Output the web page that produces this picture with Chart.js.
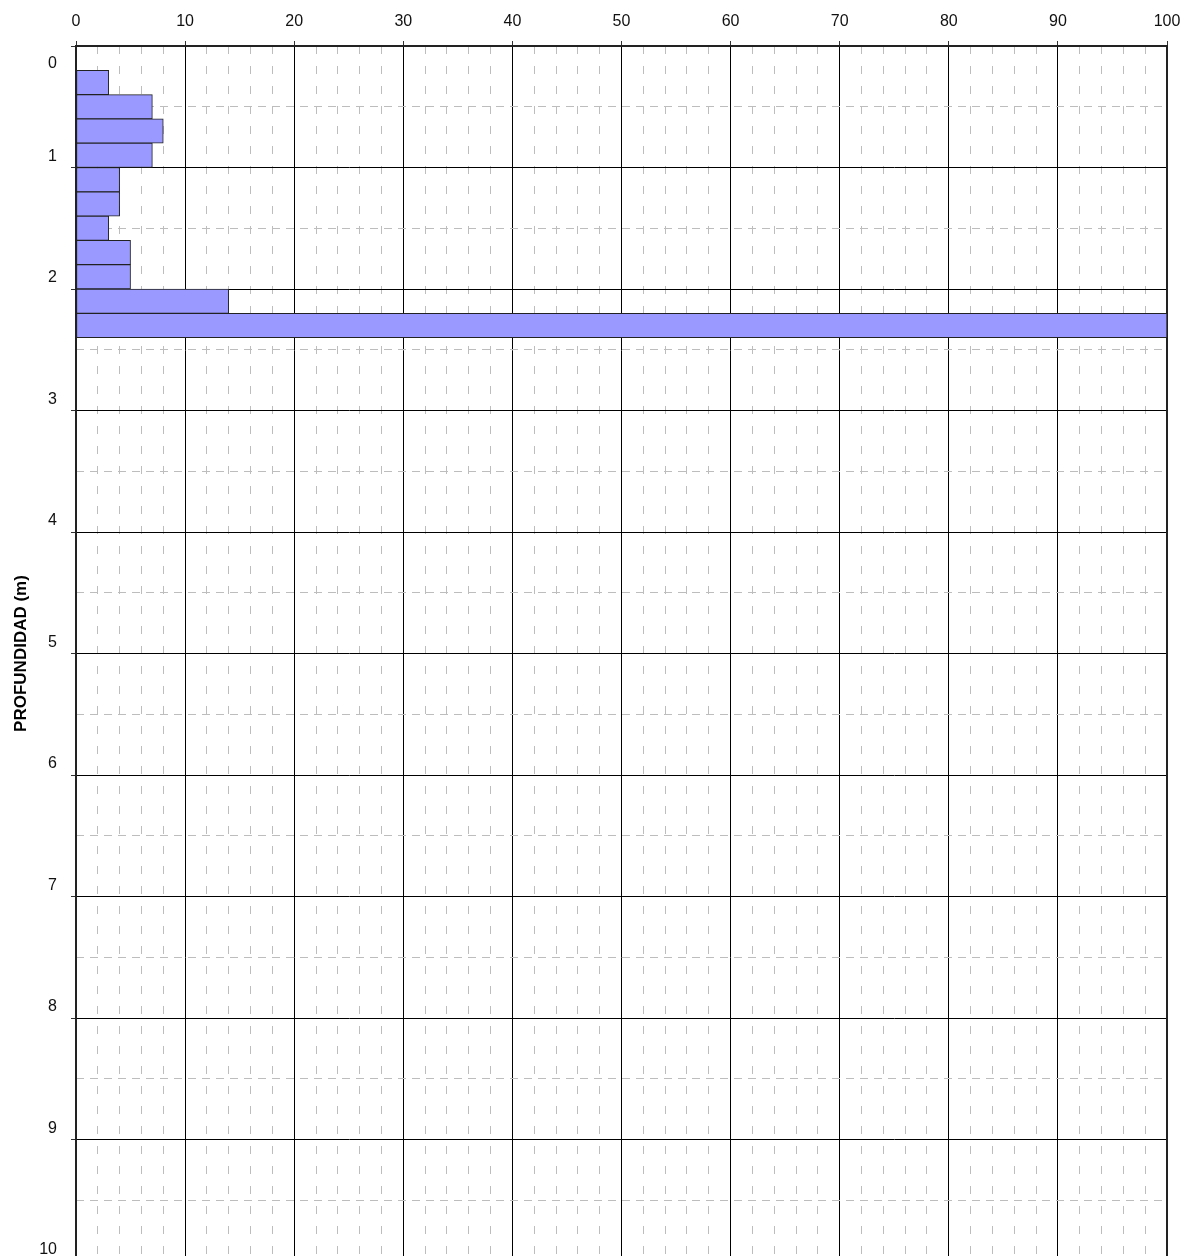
<!DOCTYPE html>
<html>
<head>
<meta charset="utf-8">
<script src="https://cdn.jsdelivr.net/npm/chart.js@4"></script>
<style>
  html, body { margin: 0; padding: 0; background: #fff; overflow: hidden; }
</style>
</head>
<body>
<canvas id="chart" width="1191" height="1270"></canvas>
<script>
// profundidad del centro de cada tramo (m) y valor medido
const depths = [0.3, 0.5, 0.7, 0.9, 1.1, 1.3, 1.5, 1.7, 1.9, 2.1, 2.3];
const values = [3, 7, 8, 7, 4, 4, 3, 5, 5, 14, 100];
const axisTitle = 'PROFUNDIDAD (m)';

const ctx = document.getElementById('chart').getContext('2d');
const tickFont = { family: 'Arial, "Liberation Sans"', size: 16 };

// rejilla menor: transparente donde coincide con la mayor
function minorColor(step) {
  return (c) => {
    const v = c.tick ? c.tick.value : 0;
    return Math.abs(v / step - Math.round(v / step)) < 1e-6 ? 'rgba(0,0,0,0)' : '#bdbdbd';
  };
}

// tamaño fijo de cada eje, sin relleno extra para las etiquetas
function fixSize(prop, size) {
  return (s) => {
    s[prop] = size;
    s.paddingTop = s.paddingBottom = s.paddingLeft = s.paddingRight = 0;
  };
}

const chart = new Chart(ctx, {
  type: 'bar',
  data: {
    datasets: [{
      data: depths.map((d, i) => ({ x: values[i], y: d })),
      backgroundColor: '#9999ff',
      borderColor: '#222',
      borderWidth: 1,
      borderSkipped: false,
      barPercentage: 1,
      categoryPercentage: 1,
      xAxisID: 'x',
      yAxisID: 'y',
    }],
  },
  options: {
    indexAxis: 'y',
    responsive: false,
    animation: false,
    layout: { padding: { left: 0, top: 0, right: 0, bottom: 9 } },
    plugins: { legend: { display: false }, tooltip: { enabled: false } },
    scales: {
      x: {
        type: 'linear', position: 'top', min: 0, max: 100, offset: false,
        ticks: { stepSize: 10, font: tickFont, color: '#111', padding: 10, maxRotation: 0 },
        grid: { offset: false, color: '#000', lineWidth: 1, tickLength: 5, tickColor: '#333' },
        border: { color: '#222', width: 2 },
        afterFit: fixSize('height', 46),
      },
      x2: {
        type: 'linear', position: 'bottom', min: 0, max: 100, offset: false,
        ticks: { display: false, stepSize: 2 },
        grid: { offset: false, drawTicks: false, color: minorColor(10) },
        border: { color: '#222', width: 2, dash: [8, 12] },
        afterFit: fixSize('height', 0),
      },
      y: {
        type: 'linear', position: 'left', reverse: true, min: 0, max: 10, offset: false,
        ticks: {
          stepSize: 1, font: tickFont, color: '#111', padding: 14, labelOffset: -11,
          callback: (v) => (v === 0 ? ['', '', '', '0'] : String(v)),
        },
        grid: { offset: false, color: '#000', lineWidth: 1, tickLength: 5, tickColor: '#333' },
        border: { color: '#222', width: 2 },
        title: {
          display: true, text: axisTitle, color: '#000',
          font: { family: 'Arial, "Liberation Sans"', size: 17, weight: 'bold' },
          padding: { top: 11, bottom: 0 },
        },
        afterFit: fixSize('width', 76),
      },
      y2: {
        type: 'linear', position: 'right', reverse: true, min: 0, max: 10, offset: false,
        ticks: { display: false, stepSize: 0.5 },
        grid: { offset: false, drawTicks: false, color: minorColor(1) },
        border: { color: '#222', width: 2, dash: [8, 6] },
        afterFit: fixSize('width', 24),
      },
    },
  },
});
</script>
</body>
</html>
